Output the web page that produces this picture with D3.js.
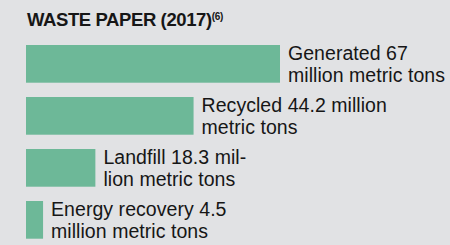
<!DOCTYPE html>
<html><head><meta charset="utf-8">
<script src="https://cdn.jsdelivr.net/npm/d3@7/dist/d3.min.js"></script>
<style>
html,body{margin:0;padding:0;background:#e1e2e4;}
svg{display:block;}
text{font-family:"Liberation Sans",Arial,Helvetica,sans-serif;fill:#161616;}
</style></head>
<body>
<script>
const title = "WASTE PAPER (2017)";
const titleNote = "(6)";
const categories = ["Generated","Recycled","Landfill","Energy recovery"];
const values = [67, 44.2, 18.3, 4.5];
const labelLines = [
  ["Generated 67","million metric tons"],
  ["Recycled 44.2 million","metric tons"],
  ["Landfill 18.3 mil-","lion metric tons"],
  ["Energy recovery 4.5","million metric tons"]
];

const W = 450, H = 245;
const svg = d3.select("body").append("svg").attr("width", W).attr("height", H);
svg.append("rect").attr("width", W).attr("height", H).attr("fill", "#e1e2e4");

const t = svg.append("text").attr("x", 27).attr("y", 26)
  .style("font-weight", "bold").style("font-size", "18.5px").style("letter-spacing", "-0.4px");
t.append("tspan").text(title);
t.append("tspan").attr("dy", -6).style("font-size", "10px").style("letter-spacing", "-0.3px").text(titleNote);

const x = d3.scaleLinear().domain([0, 67]).range([26, 280]);
const y = d3.scaleBand().domain(categories).range([45, 238.7]).paddingInner(0.275).paddingOuter(0);

const data = categories.map((c, i) => ({c, v: values[i], lines: labelLines[i]}));

const g = svg.append("g");
g.selectAll("rect.bar").data(data).join("rect").attr("class", "bar")
  .attr("x", x(0)).attr("y", d => y(d.c))
  .attr("width", d => x(d.v) - x(0)).attr("height", y.bandwidth())
  .attr("fill", "#6db898");

const lab = g.selectAll("text.lab").data(data).join("text").attr("class", "lab")
  .attr("x", d => x(d.v) + 8).attr("y", d => y(d.c))
  .style("font-size", "19.5px").style("letter-spacing", "0.05px");
lab.selectAll("tspan").data(d => d.lines.map((l, j) => ({l, j, d}))).join("tspan")
  .attr("x", o => x(o.d.v) + 8)
  .attr("y", o => y(o.d.c) + (o.j === 0 ? 15 : 37))
  .text(o => o.l);
</script>
</body></html>
